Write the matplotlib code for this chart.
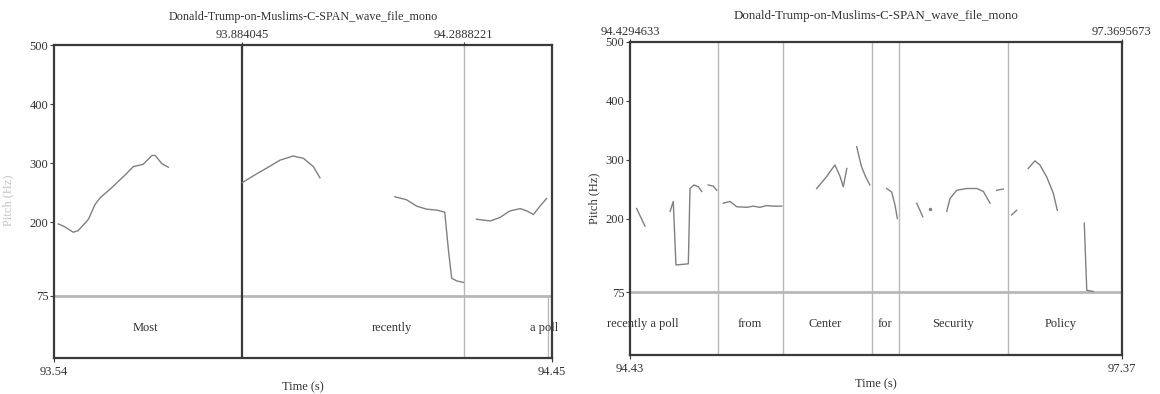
import matplotlib
matplotlib.use("Agg")
import matplotlib.pyplot as plt
import matplotlib.transforms as mtransforms

plt.rcParams['font.family'] = ['Liberation Serif', 'DejaVu Serif']

TITLE = "Donald-Trump-on-Muslims-C-SPAN_wave_file_mono"
YTICKS = [75, 200, 300, 400, 500]

# ---------------- left panel data ----------------
left_xlim = (93.54, 94.45)
left_xlabels = ["93.54", "94.45"]
left_bounds = [93.884045, 94.2888221]
left_bound_labels = ["93.884045", "94.2888221"]
left_tier_only_bound = 94.4427
left_words = ["Most", "recently", "a poll"]
left_word_t = [93.708, 94.158, 94.435]

left_most_t = [93.548, 93.560, 93.575, 93.584, 93.603, 93.615, 93.624, 93.645,
               93.670, 93.685, 93.703, 93.719, 93.725, 93.737, 93.749]
left_most_hz = [197, 192, 183, 185.5, 205, 230, 241, 258, 280, 294, 298, 313, 313, 299, 293]
left_rec1_t = [93.884, 93.907, 93.935, 93.953, 93.977, 93.996, 94.014, 94.026]
left_rec1_hz = [267, 280, 295, 305, 312, 308, 294, 275]
left_rec2_t = [94.163, 94.184, 94.203, 94.221, 94.239, 94.254, 94.2605, 94.2667, 94.276, 94.288]
left_rec2_hz = [243, 238, 227, 222, 220.5, 217, 155, 105, 100.5, 98]
left_poll_t = [94.312, 94.337, 94.355, 94.373, 94.392, 94.404, 94.416, 94.428, 94.440]
left_poll_hz = [205, 202, 208, 219, 223, 219, 213, 227, 240]

# ---------------- right panel data ----------------
right_xlim = (94.4294633, 97.3695673)
right_xlabels = ["94.43", "97.37"]
right_top_labels = ["94.4294633", "97.3695673"]
right_bounds = [94.954, 95.342, 95.874, 96.037, 96.686]
right_words = ["recently a poll", "from", "Center", "for", "Security", "Policy"]
right_word_t = [94.507, 95.147, 95.595, 95.953, 96.360, 97.005]

r_a_t = [94.469, 94.519]
r_a_hz = [217, 187]
r_b_t = [94.669, 94.688, 94.704, 94.778, 94.788, 94.812, 94.838, 94.858]
r_b_hz = [212, 229, 121, 123, 251, 257, 254, 246]
r_c_t = [94.897, 94.927, 94.948]
r_c_hz = [257, 255, 248]
r_d_t = [94.987, 95.027, 95.067, 95.127, 95.166, 95.206, 95.246, 95.286, 95.336]
r_d_hz = [226, 229, 220, 219, 221, 219, 222, 221, 221]
r_e1_t = [95.545, 95.601, 95.654, 95.684, 95.704, 95.725]
r_e1_hz = [251, 270, 291, 272, 254, 285]
r_e2_t = [95.784, 95.813, 95.839, 95.863]
r_e2_hz = [322, 288, 270, 257]
r_f_t = [95.963, 95.993, 96.013, 96.027]
r_f_hz = [251, 245, 223, 200]
r_g1_t = [96.143, 96.179]
r_g1_hz = [226, 203]
r_g2_t = [96.223]
r_g2_hz = [217]
r_g3_t = [96.322, 96.342, 96.382, 96.442, 96.502, 96.541, 96.581]
r_g3_hz = [212, 234, 248, 251, 251, 246, 226]
r_g4_t = [96.621, 96.660]
r_g4_hz = [248, 250]
r_h1_t = [96.710, 96.740]
r_h1_hz = [206, 214]
r_h2_t = [96.809, 96.849, 96.879, 96.919, 96.959, 96.983]
r_h2_hz = [285, 298, 291, 271, 243, 214]
r_i_t = [97.144, 97.159, 97.198]
r_i_hz = [192, 78, 76]

TXT = '#333333'
CURVE = '#808080'
FRAME = '#3a3a3a'
LIGHT = '#b8b8b8'

W, H = 1160, 394
fig = plt.figure(figsize=(W / 100, H / 100), dpi=100)


def px_axes(x0, x1, ytop, ybot):
    return fig.add_axes([x0 / W, (H - ybot) / H, (x1 - x0) / W, (ybot - ytop) / H])


def style(ax, xlim, ybottom, fs):
    ax.set_xlim(*xlim)
    ax.set_ylim(ybottom, 500)
    for s in ax.spines.values():
        s.set_color(FRAME)
        s.set_linewidth(1.6)
    ax.set_yticks(YTICKS)
    ax.set_yticklabels([str(v) for v in YTICKS])
    ax.tick_params(axis='y', direction='out', length=3, width=0.8, color=FRAME,
                   labelcolor=TXT, labelsize=fs, pad=1)
    ax.set_xticks(list(xlim))
    ax.tick_params(axis='x', direction='out', length=3, width=0.8, color=FRAME,
                   labelcolor=TXT, labelsize=fs, pad=3)
    ax.axhline(75, color=LIGHT, lw=2.0, zorder=1)
    ax.set_xlabel("Time (s)", color=TXT, fontsize=fs, labelpad=2)


# ---------------- left panel ----------------
axl = px_axes(54, 552, 45, 358)
style(axl, left_xlim, -30, 9)
axl.set_xticklabels(left_xlabels)
axl.axvline(left_bounds[0], color=FRAME, lw=1.6, zorder=2)
axl.axvline(left_bounds[1], color=LIGHT, lw=1.0, zorder=2)
axl.plot([left_tier_only_bound, left_tier_only_bound], [-30, 75], color=LIGHT, lw=1.0, zorder=2)
for t, hz in [(left_most_t, left_most_hz), (left_rec1_t, left_rec1_hz),
              (left_rec2_t, left_rec2_hz), (left_poll_t, left_poll_hz)]:
    axl.plot(t, hz, color=CURVE, lw=1.0, zorder=3)
for w, t in zip(left_words, left_word_t):
    axl.text(t, 21, w, ha='center', va='center', color=TXT, fontsize=9, zorder=4)
secl = axl.secondary_xaxis('top')
secl.set_xticks(left_bounds)
secl.set_xticklabels(left_bound_labels)
secl.tick_params(direction='inout', length=4, width=0.8, color=FRAME,
                 labelcolor=TXT, labelsize=9, pad=1)
secl.spines['top'].set_visible(False)
trl = mtransforms.blended_transform_factory(axl.transAxes, fig.transFigure)
axl.text(0.5, (H - 17) / H, TITLE, transform=trl, ha='center', va='center',
         color=TXT, fontsize=8.7)
fig.text(8 / W, (H - 200) / H, "Pitch (Hz)", rotation=90, ha='center', va='center',
         color='#c4c4c4', fontsize=9)

# ---------------- right panel ----------------
axr = px_axes(630, 1122, 42, 355)
style(axr, right_xlim, -32, 9)
axr.set_xticklabels(right_xlabels)
for b in right_bounds:
    axr.axvline(b, color=LIGHT, lw=1.0, zorder=2)
right_segments = [(r_a_t, r_a_hz), (r_b_t, r_b_hz), (r_c_t, r_c_hz), (r_d_t, r_d_hz),
                  (r_e1_t, r_e1_hz), (r_e2_t, r_e2_hz), (r_f_t, r_f_hz),
                  (r_g1_t, r_g1_hz), (r_g3_t, r_g3_hz), (r_g4_t, r_g4_hz),
                  (r_h1_t, r_h1_hz), (r_h2_t, r_h2_hz), (r_i_t, r_i_hz)]
for t, hz in right_segments:
    axr.plot(t, hz, color=CURVE, lw=1.0, zorder=3)
axr.plot(r_g2_t, r_g2_hz, 'o', color=CURVE, ms=1.5, zorder=3)
for w, t in zip(right_words, right_word_t):
    axr.text(t, 21, w, ha='center', va='center', color=TXT, fontsize=9, zorder=4)
secr = axr.secondary_xaxis('top')
secr.set_xticks(list(right_xlim))
secr.set_xticklabels(right_top_labels)
secr.tick_params(direction='inout', length=4, width=0.8, color=FRAME,
                 labelcolor=TXT, labelsize=9, pad=1)
secr.spines['top'].set_visible(False)
trr = mtransforms.blended_transform_factory(axr.transAxes, fig.transFigure)
axr.text(0.5, (H - 16) / H, TITLE, transform=trr, ha='center', va='center',
         color=TXT, fontsize=9.3)
axr.set_ylabel("Pitch (Hz)", color=TXT, fontsize=9, labelpad=4)

fig.savefig("out.png", dpi=100)
